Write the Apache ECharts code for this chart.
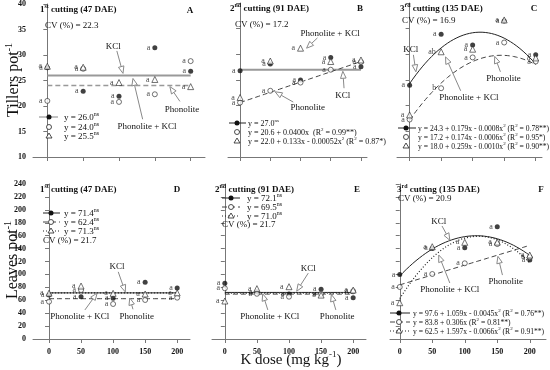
<!DOCTYPE html>
<html lang="en">
<head>
  <meta charset="UTF-8">
  <title>Tillers and leaves per pot vs K dose</title>
  <style>
    * { margin: 0; padding: 0; }
    body { background: #fff; }
  </style>
  <script src="https://cdn.jsdelivr.net/npm/echarts@6/dist/echarts.min.js"></script>
</head>
<body>
  <div id="chart" style="width: 550px; height: 370px;"></div>
  <script>
    const serif = '"Liberation Serif", "DejaVu Serif", serif'

    // K doses (mg kg-1)
    const doses = [0, 50, 100, 150, 200]

    // tillers per pot (KCl = filled circle, Phonolite = open circle, Phonolite + KCl = triangle)
    const tillA_kcl = [27.5, 22.9, 21.9, 31.4, 26.8]
    const tillA_phon = [21.0, 27.3, 20.8, 22.3, 28.8]
    const tillA_mix = [27.8, 27.6, 24.6, 25.2, 23.8]
    const tillB_kcl = [26.8, 28.1, 25.0, 29.4, 27.6]
    const tillB_phon = [20.6, 22.9, 24.5, 27.0, 28.5]
    const tillB_mix = [21.6, 28.7, 31.2, 28.6, 28.9]
    const tillC_kcl = [24.0, 33.9, 31.8, 36.5, 29.9]
    const tillC_phon = [17.3, 23.4, 29.4, 32.3, 28.6]
    const tillC_mix = [18.2, 30.5, 31.0, 36.7, 29.3]

    // leaves per pot
    const leafD_kcl = [68, 65.5, 63, 88, 79]
    const leafD_phon = [57.8, 75.8, 54.2, 60.4, 64]
    const leafD_mix = [71, 82, 70.7, 69.7, 71.5]
    const leafE_kcl = [86.2, 73, 69.7, 76.9, 64]
    const leafE_phon = [78.5, 70, 65.5, 69.7, 74]
    const leafE_mix = [58.8, 78, 81, 68, 75.8]
    const leafF_kcl = [100, 140.3, 141.3, 173.8, 122.3]
    const leafF_phon = [80.5, 100.6, 117.2, 147, 126.5]
    const leafF_mix = [56.2, 142.9, 149.7, 150, 130]

    // Tukey letters shown next to the points
    const lettersAll = ['a', 'a', 'a', 'a', 'a']
    const lettersC_phon = ['a', 'b', 'a', 'a', 'a']
    const lettersC_mix = ['a', 'ab', 'a', 'a', 'a']

    // fitted equations printed in each panel: [b0, b1, b2]
    const fitA_kcl = [26.0, 0, 0]
    const fitA_phon = [24.0, 0, 0]
    const fitB_kcl = [27.0, 0, 0]
    const fitB_phon = [20.6, 0.04, 0]
    const fitC_kcl = [24.3, 0.179, -0.0008]
    const fitC_phon = [17.2, 0.174, -0.0006]
    const fitD_kcl = [71.4, 0, 0]
    const fitD_phon = [62.4, 0, 0]
    const fitD_mix = [71.3, 0, 0]
    const fitE_kcl = [72.1, 0, 0]
    const fitE_phon = [69.5, 0, 0]
    const fitE_mix = [71.0, 0, 0]
    const fitF_kcl = [97.6, 1.059, -0.0045]
    const fitF_phon = [83.8, 0.306, 0]
    const fitF_mix = [62.5, 1.597, -0.0066]

    // legend texts ({s|..} = superscript)
    const legA = ['y = 26.0{s|ns}', 'y = 24.0{s|ns}', 'y = 25.5{s|ns}']
    const legB = ['y = 27.0{s|ns}', 'y = 20.6 + 0.0400x  (R{s|2} = 0.99**)', 'y = 22.0 + 0.133x - 0.00052x{s|2} (R{s|2} = 0.87*)']
    const legC = ['y = 24.3 + 0.179x - 0.0008x{s|2} (R{s|2} = 0.78**)', 'y = 17.2 + 0.174x - 0.0006x{s|2} (R{s|2} = 0.95*)', 'y = 18.0 + 0.259x - 0.0010x{s|2} (R{s|2} = 0.90**)']
    const legD = ['y = 71.4{s|ns}', 'y = 62.4{s|ns}', 'y = 71.3{s|ns}']
    const legE = ['y = 72.1{s|ns}', 'y = 69.5{s|ns}', 'y = 71.0{s|ns}']
    const legF = ['y = 97.6 + 1.059x - 0.0045x{s|2} (R{s|2} = 0.76**)', 'y = 83.8 + 0.306x (R{s|2} = 0.81**)', 'y = 62.5 + 1.597x - 0.0066x{s|2} (R{s|2} = 0.91**)']

    const titles = ['1{s|st} cutting (47 DAE)', '2{s|nd} cutting (91 DAE)', '3{s|rd} cutting (135 DAE)',
      '1{s|st} cutting (47 DAE)', '2{s|nd} cutting (91 DAE)', '3{s|rd} cutting (135 DAE)']
    const panelLetters = ['A', 'B', 'C', 'D', 'E', 'F']
    const cvTexts = ['CV (%) = 22.3', 'CV (%) = 17.2', 'CV (%) = 16.9', 'CV (%) = 21.7', 'CV (%) = 21.7', 'CV (%) = 20.9']

    const solidGray = { color: '#999', width: 2, type: 'solid' }
    const dashGray = { color: '#999', width: 1.5, type: [5, 3] }
    const solid = { color: '#222', width: 1, type: 'solid' }
    const dashed = { color: '#444', width: 1, type: [5, 3] }
    const dotted = { color: '#222', width: 1.2, type: [1, 2] }

    const panels = [
      { grid: { left: 33, top: 3, width: 172, height: 154 }, x: [-20, 220], y: [10, 40, 5], yLab: true, xLab: false,
        pts: [tillA_kcl, tillA_phon, tillA_mix], lets: [lettersAll, lettersAll, lettersAll],
        fits: [[fitA_kcl, solidGray], [fitA_phon, dashGray]],
        leg: { texts: legA, line: [39, 58], sym: 49, tx: 64, rows: [117, 127, 136], styles: [solidGray, null, null], size: 9 },
        title: [40, 9], letter: [190, 10], cv: [45, 25] },
      { grid: { left: 228, top: 3, width: 139, height: 154 }, x: [-20, 210], y: [10, 40, 5], yLab: false, xLab: false,
        pts: [tillB_kcl, tillB_phon, tillB_mix], lets: [lettersAll, lettersAll, lettersAll],
        fits: [[fitB_kcl, solidGray], [fitB_phon, dashed]],
        leg: { texts: legB, line: [229, 246], sym: 237, tx: 248, rows: [123, 132, 141], styles: [solid, null, null], size: 8 },
        title: [230, 8], letter: [360, 8], cv: [235, 24] },
      { grid: { left: 397, top: 3, width: 145, height: 154 }, x: [-20, 210], y: [10, 40, 5], yLab: false, xLab: false,
        pts: [tillC_kcl, tillC_phon, tillC_mix], lets: [lettersAll, lettersC_phon, lettersC_mix],
        fits: [[fitC_kcl, solid], [fitC_phon, dashed]],
        leg: { texts: legC, line: [398, 416], sym: 406, tx: 418, rows: [128, 137, 146], styles: [solid, null, null], size: 7.6 },
        title: [400, 8], letter: [534, 8], cv: [402, 20] },
      { grid: { left: 33, top: 184, width: 157, height: 155 }, x: [-25, 220], y: [0, 240, 20], yLab: true, xLab: true,
        pts: [leafD_kcl, leafD_phon, leafD_mix], lets: [lettersAll, lettersAll, lettersAll],
        fits: [[fitD_kcl, solid], [fitD_phon, dashed], [fitD_mix, dotted]],
        leg: { texts: legD, line: [43, 60], sym: 51, tx: 64, rows: [213, 222, 231], styles: [solid, dashed, dotted], size: 9 },
        title: [40, 189], letter: [177, 189], cv: [43, 240] },
      { grid: { left: 212, top: 184, width: 154, height: 155 }, x: [-20, 220], y: [0, 240, 20], yLab: false, xLab: true,
        pts: [leafE_kcl, leafE_phon, leafE_mix], lets: [lettersAll, lettersAll, lettersAll],
        fits: [[fitE_kcl, solid], [fitE_phon, dashed], [fitE_mix, dotted]],
        leg: { texts: legE, line: [222, 240], sym: 231, tx: 247, rows: [198, 207, 216], styles: [solid, dashed, dotted], size: 9 },
        title: [215, 189], letter: [357, 189], cv: [222, 224] },
      { grid: { left: 390, top: 184, width: 156, height: 155 }, x: [-15, 225], y: [0, 240, 20], yLab: false, xLab: true,
        pts: [leafF_kcl, leafF_phon, leafF_mix], lets: [lettersAll, lettersAll, lettersAll],
        fits: [[fitF_kcl, solid], [fitF_phon, dashed], [fitF_mix, dotted]],
        leg: { texts: legF, line: [390, 410], sym: 399, tx: 413, rows: [313, 322, 331], styles: [solid, dashed, dotted], size: 7.6 },
        title: [397, 189], letter: [541, 189], cv: [398, 198] }
    ]

    // annotation labels with arrows, in data coordinates of each panel
    const notes = [
      [0, 'KCl', [92, 31.8], [97, 30.8], [105.6, 26.4]],
      [0, 'Phonolite + KCl', [139, 16.2], [133, 17.4], [119.5, 25.4]],
      [0, 'Phonolite', [188, 19.5], [185, 20.9], [171, 23.8]],
      [1, 'Phonolite + KCl', [149, 34.3], [128, 33.2], [110, 31.2]],
      [1, 'KCl', [170, 22.1], [172, 23.4], [170, 26.7]],
      [1, 'Phonolite', [112, 19.9], [88, 20.7], [58, 22.7]],
      [2, 'KCl', [2, 31.2], [6, 29.9], [10, 26.6]],
      [2, 'Phonolite + KCl', [94, 21.7], [81, 22.9], [57, 29.5]],
      [2, 'Phonolite', [149, 25.4], [144, 26.6], [135, 29.6]],
      [3, 'KCl', [106, 113], [108, 104], [119, 73]],
      [3, 'Phonolite + KCl', [48, 35.6], [56, 45], [75, 71]],
      [3, 'Phonolite', [137, 35.6], [131, 46], [126, 63.5]],
      [4, 'KCl', [130, 111], [130, 102], [112, 74]],
      [4, 'Phonolite + KCl', [70, 35.6], [67, 45], [59, 70]],
      [4, 'Phonolite', [175, 35.6], [173, 45], [166, 69]],
      [5, 'KCl', [60, 184], [65, 175], [77, 153]],
      [5, 'Phonolite + KCl', [77, 77.4], [77, 86.7], [60, 130]],
      [5, 'Phonolite', [163, 90], [158, 99], [151, 128]]
    ]

    const markers = [
      { symbol: 'circle', symbolSize: 5, itemStyle: { color: '#111' } },
      { symbol: 'circle', symbolSize: 5, itemStyle: { color: '#fff', borderColor: '#222', borderWidth: 0.8 } },
      { symbol: 'triangle', symbolSize: 6, itemStyle: { color: '#fff', borderColor: '#222', borderWidth: 0.8 } }
    ]

    function curve(c) {
      const out = []
      for (let x = 0; x <= 200; x += 5) out.push([x, c[0] + c[1] * x + c[2] * x * x])
      return out
    }

    const grid = [], xAxis = [], yAxis = [], series = []
    panels.forEach((p, i) => {
      grid.push(Object.assign({ containLabel: false }, p.grid))
      xAxis.push({
        type: 'value', gridIndex: i, min: p.x[0], max: p.x[1],
        axisLine: { lineStyle: { color: '#777' } },
        axisTick: { length: 4, lineStyle: { color: '#777' }, customValues: doses },
        axisLabel: { show: p.xLab, customValues: doses, margin: 9, fontFamily: serif, fontSize: 8, fontWeight: 'bold', color: '#111' },
        splitLine: { show: false }
      })
      yAxis.push({
        type: 'value', gridIndex: i, min: p.y[0], max: p.y[1], interval: p.y[2],
        axisLine: { show: true, lineStyle: { color: '#777' } },
        axisTick: { show: true, length: 4, lineStyle: { color: '#777' } },
        axisLabel: { show: p.yLab, margin: 7, fontFamily: serif, fontSize: 8, fontWeight: 'bold', color: '#111' },
        splitLine: { show: false }
      })
      p.fits.forEach(f => {
        series.push({
          type: 'line', xAxisIndex: i, yAxisIndex: i, data: curve(f[0]), showSymbol: false,
          lineStyle: f[1], silent: true, z: 2
        })
      })
      p.pts.forEach((vals, k) => {
        const lets = p.lets[k]
        series.push(Object.assign({
          type: 'scatter', xAxisIndex: i, yAxisIndex: i, z: 3 + k,
          data: doses.map((d, j) => [d, vals[j]]),
          label: { show: true, position: 'left', distance: 2, fontFamily: serif, fontSize: 8, color: '#111',
            formatter: q => lets[q.dataIndex] }
        }, markers[k]))
      })
    })

    const chart = echarts.init(document.getElementById('chart'))
    chart.setOption({ animation: false, grid, xAxis, yAxis, series })

    // every piece of text is a rich token so base and superscript are measured alike
    function txt(x, y, text, size, opts) {
      opts = opts || {}
      const weight = opts.bold ? 'bold' : 'normal'
      const wrapped = text.split(/(\{s\|[^}]*\})/).filter(s => s).map(s => s.startsWith('{s|') ? s : '{n|' + s + '}').join('')
      return {
        type: 'text', x, y, z: 20, rotation: opts.rot || 0,
        style: {
          text: wrapped, fill: '#111', align: opts.align || 'left', verticalAlign: 'middle',
          rich: {
            n: { fontFamily: serif, fontSize: size, fontWeight: weight, lineHeight: size + 2, verticalAlign: 'bottom' },
            s: { fontFamily: serif, fontSize: Math.round(size * 0.62), fontWeight: weight, lineHeight: size + 2, verticalAlign: 'top' }
          }
        }
      }
    }
    function symbolEl(k, x, y) {
      if (k === 2) {
        return { type: 'polygon', z: 21, shape: { points: [[x, y - 3], [x - 3, y + 2], [x + 3, y + 2]] }, style: { fill: '#fff', stroke: '#222', lineWidth: 0.8 } }
      }
      return { type: 'circle', z: 21, shape: { cx: x, cy: y, r: 2.5 }, style: k === 0 ? { fill: '#111' } : { fill: '#fff', stroke: '#222', lineWidth: 0.8 } }
    }
    function arrow(p0, p1) {
      const dx = p1[0] - p0[0], dy = p1[1] - p0[1]
      const len = Math.hypot(dx, dy), ux = dx / len, uy = dy / len
      const hl = 7, hw = 2.8
      const b = [p1[0] - ux * hl, p1[1] - uy * hl]
      return [
        { type: 'line', z: 15, shape: { x1: p0[0], y1: p0[1], x2: b[0], y2: b[1] }, style: { stroke: '#888', lineWidth: 1 } },
        { type: 'polygon', z: 15, shape: { points: [p1, [b[0] - uy * hw, b[1] + ux * hw], [b[0] + uy * hw, b[1] - ux * hw]] },
          style: { fill: '#fff', stroke: '#888', lineWidth: 1 } }
      ]
    }

    const els = []
    panels.forEach((p, i) => {
      els.push(txt(p.title[0], p.title[1], titles[i], 9, { bold: true }))
      els.push(txt(p.letter[0], p.letter[1], panelLetters[i], 9, { bold: true, align: 'center' }))
      els.push(txt(p.cv[0], p.cv[1], cvTexts[i], 9))
      const L = p.leg
      L.rows.forEach((ry, k) => {
        if (L.styles[k]) {
          const st = L.styles[k]
          els.push({ type: 'line', z: 20, shape: { x1: L.line[0], y1: ry, x2: L.line[1], y2: ry },
            style: { stroke: st.color, lineWidth: Math.min(st.width, 1.2), lineDash: Array.isArray(st.type) ? st.type : null } })
        }
        els.push(symbolEl(k, L.sym, ry))
        els.push(txt(L.tx, ry, L.texts[k], L.size))
      })
    })
    notes.forEach(n => {
      const g = n[0]
      const t = chart.convertToPixel({ gridIndex: g }, n[2])
      const a0 = chart.convertToPixel({ gridIndex: g }, n[3])
      const a1 = chart.convertToPixel({ gridIndex: g }, n[4])
      els.push(txt(t[0], t[1], n[1], 9, { align: 'center' }))
      arrow(a0, a1).forEach(e => els.push(e))
    })
    els.push(txt(13, 80, 'Tillers pot{s|-1}', 16, { align: 'center', rot: Math.PI / 2 }))
    els.push(txt(12, 260, 'Leaves pot{s|-1}', 16, { align: 'center', rot: Math.PI / 2 }))
    els.push(txt(291, 359, 'K dose (mg kg{s|-1})', 15, { align: 'center' }))

    chart.setOption({ graphic: { elements: els } })
  </script>
</body>
</html>
